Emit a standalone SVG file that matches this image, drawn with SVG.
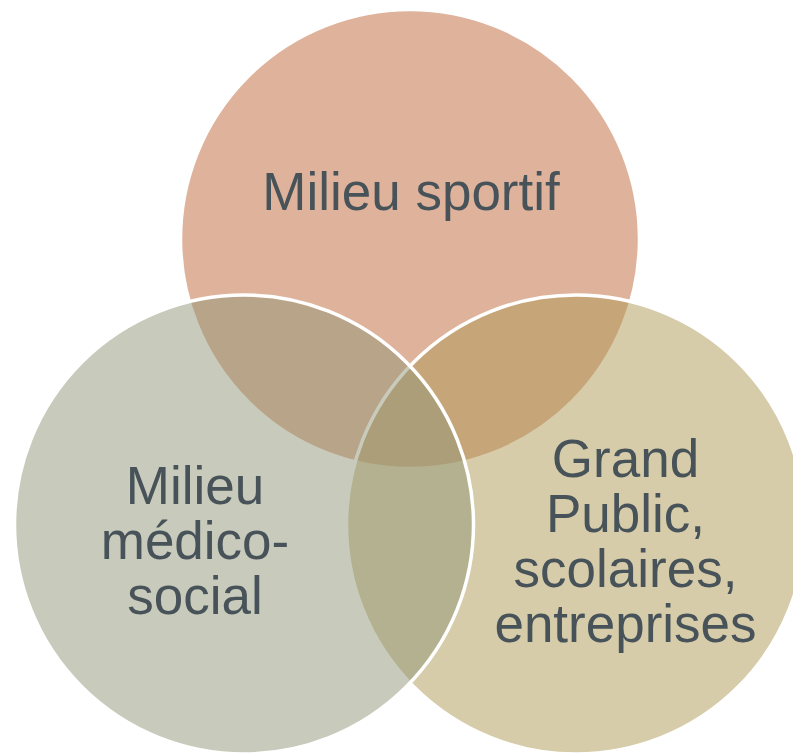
<svg xmlns="http://www.w3.org/2000/svg" width="793" height="753" viewBox="0 0 793 753">
<style>
.c{fill-opacity:0.5;stroke:#FFFFFF;stroke-width:3.5}
.t{font-family:"Liberation Sans",Arial,sans-serif;font-size:53px;fill:#475359;text-anchor:middle}
</style>
<rect width="793" height="753" fill="#FFFFFF"/>
<g id="node-sportif">
<circle class="c" cx="410" cy="239" r="229.5" fill="#BF6737"/>
</g>
<g id="node-grand-public">
<circle class="c" cx="576" cy="524.5" r="229.5" fill="#AD9955"/>
</g>
<g id="node-medico-social">
<circle class="c" cx="244" cy="524.5" r="229.5" fill="#919577"/>
</g>
<g id="labels">
<text class="t" x="411" y="210">Milieu sportif</text>
<text class="t" x="195" y="504">Milieu</text>
<text class="t" x="195" y="559">médico-</text>
<text class="t" x="195" y="614">social</text>
<text class="t" x="625.5" y="477">Grand</text>
<text class="t" x="625.5" y="532">Public,</text>
<text class="t" x="625.5" y="587">scolaires,</text>
<text class="t" x="625.5" y="642">entreprises</text>
</g>
<g id="connectors"></g>
</svg>
